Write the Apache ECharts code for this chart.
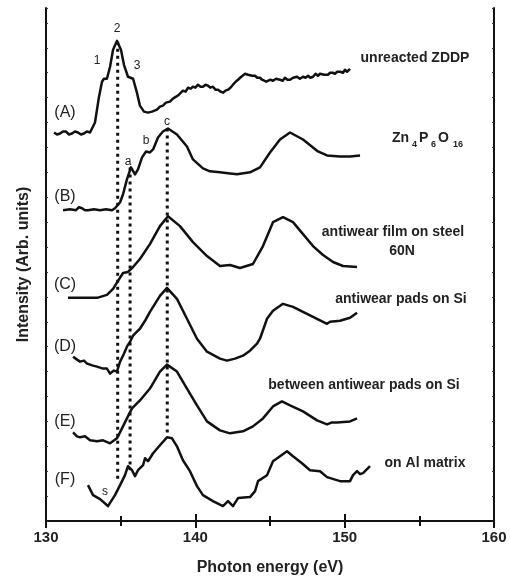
<!DOCTYPE html>
<html><head><meta charset="utf-8">
<script src="https://cdn.jsdelivr.net/npm/echarts@6/dist/echarts.min.js"></script>
<style>html,body{margin:0;padding:0;background:#fff}#c{width:510px;height:581px}</style>
</head><body><div id="c"></div>
<script>
// Photon energy (eV) and intensity (arb. units, curves stacked with offsets)
const xTicks = [130, 140, 150, 160];
const curveA = [[130.54,39.0],[130.74,38.8],[130.94,38.9],[131.14,39.1],[131.34,39.1],[131.54,38.8],[131.74,38.9],[131.94,39.1],[132.14,39.0],[132.34,38.8],[132.54,38.9],[132.74,39.1],[132.95,39.0],[133.28,40.0],[133.55,42.6],[133.75,44.1],[133.88,44.4],[134.08,44.4],[134.29,45.6],[134.49,47.3],[134.75,48.2],[135.02,47.3],[135.22,45.8],[135.49,44.6],[135.83,44.4],[136.09,43.0],[136.29,41.7],[136.56,41.1],[136.83,41.0],[137.10,41.1],[137.43,41.3],[137.63,41.6],[137.83,41.7],[138.03,42.0],[138.30,42.1],[138.50,42.4],[138.71,42.6],[138.90,42.8],[139.17,43.2],[139.35,43.1],[139.51,43.5],[139.70,43.4],[139.84,43.6],[140.00,43.5],[140.18,43.8],[140.35,43.6],[140.51,43.6],[140.68,43.8],[140.85,43.7],[141.00,43.5],[141.18,43.6],[141.35,43.3],[141.52,43.3],[141.70,43.1],[141.85,43.0],[142.02,43.2],[142.19,43.3],[142.35,43.5],[142.52,43.8],[142.70,44.1],[142.86,44.3],[143.00,44.5],[143.13,44.7],[143.33,44.9],[143.53,44.8],[143.66,45.0],[143.80,44.7],[144.00,44.7],[144.15,44.5],[144.33,44.5],[144.47,44.3],[144.60,44.3],[144.75,44.1],[144.87,44.0],[145.03,44.3],[145.20,44.2],[145.40,44.4],[145.67,44.3],[145.85,44.2],[146.00,44.5],[146.17,44.3],[146.34,44.3],[146.55,44.5],[146.81,44.6],[147.00,44.4],[147.21,44.6],[147.38,44.5],[147.55,44.7],[147.70,44.5],[147.88,44.6],[148.05,44.9],[148.21,44.7],[148.35,44.9],[148.48,44.7],[148.62,44.8],[148.75,44.9],[148.88,44.8],[149.02,45.0],[149.20,45.0],[149.35,44.9],[149.50,45.1],[149.69,45.1],[149.89,45.0],[150.02,45.3],[150.16,45.1],[150.36,45.4]];
const curveB = [[131.14,31.2],[131.61,31.3],[132.01,31.2],[132.21,31.5],[132.41,31.4],[132.61,31.2],[132.81,31.2],[133.21,31.3],[133.62,31.2],[134.02,31.3],[134.42,31.2],[134.62,31.4],[134.96,32.0],[135.16,32.8],[135.42,34.3],[135.69,35.5],[135.96,34.8],[136.16,35.3],[136.43,36.5],[136.70,37.1],[136.96,37.0],[137.17,37.3],[137.50,38.5],[137.83,39.1],[138.17,39.4],[138.77,38.8],[139.44,37.6],[139.84,36.3],[140.51,35.4],[140.98,35.1],[141.65,35.0],[142.19,34.9],[142.79,34.8],[143.66,35.0],[144.33,35.5],[145.00,37.0],[145.67,38.3],[146.34,39.0],[147.21,38.3],[148.21,37.1],[148.82,36.7],[149.69,36.6],[150.36,36.6],[151.03,36.7]];
const curveC = [[131.47,22.4],[132.28,22.4],[133.42,22.4],[134.08,22.7],[134.49,23.3],[134.82,24.1],[135.16,24.9],[135.49,25.0],[135.83,25.5],[136.29,26.3],[136.96,27.8],[137.63,29.6],[138.17,30.6],[138.97,29.6],[139.84,28.0],[140.78,26.6],[141.65,25.6],[142.32,25.7],[142.99,25.4],[143.86,25.8],[144.53,27.6],[145.20,30.0],[145.87,30.5],[146.54,30.0],[147.21,28.8],[147.88,27.6],[148.55,26.7],[149.22,26.0],[149.89,25.6],[150.83,25.5]];
const curveD = [[131.81,16.5],[132.08,16.2],[132.28,16.0],[132.54,16.1],[132.75,15.8],[133.15,15.6],[133.42,15.5],[133.82,15.3],[134.08,15.3],[134.29,14.8],[134.55,15.1],[134.75,15.0],[134.96,16.0],[135.16,16.6],[135.42,17.5],[135.63,18.0],[135.83,18.6],[136.09,19.0],[136.29,19.3],[136.63,20.1],[136.96,21.0],[137.63,22.6],[138.10,23.4],[138.77,22.3],[139.44,20.3],[140.11,18.3],[140.78,17.0],[141.65,16.3],[142.12,16.1],[142.66,16.3],[143.19,16.6],[143.66,17.1],[144.13,17.8],[144.33,18.3],[144.80,20.3],[145.20,21.1],[145.87,21.8],[146.54,21.5],[147.48,20.8],[148.15,20.3],[148.82,19.8],[149.02,20.0],[149.69,20.1],[150.36,20.4],[150.83,20.9]];
const curveE = [[131.81,8.9],[132.08,8.5],[132.28,8.4],[132.61,8.5],[132.95,8.1],[133.42,8.0],[133.82,8.1],[134.29,7.8],[134.75,8.3],[135.09,9.3],[135.42,10.3],[135.76,11.3],[136.29,12.1],[136.96,13.3],[137.63,15.0],[138.10,15.7],[138.77,15.0],[139.44,13.3],[140.11,11.6],[140.78,10.0],[141.65,9.1],[142.32,8.8],[143.19,9.0],[143.86,9.5],[144.53,10.3],[145.20,11.5],[145.80,12.0],[146.34,11.6],[147.21,11.0],[148.15,10.1],[148.82,9.7],[149.15,9.9],[149.49,9.9],[150.36,10.0],[150.83,10.3]];
const curveF = [[132.81,3.6],[133.15,2.6],[133.62,2.2],[134.15,1.5],[134.62,2.6],[134.96,3.6],[135.29,4.6],[135.49,5.5],[135.76,5.1],[135.96,4.5],[136.16,5.1],[136.50,5.6],[136.63,6.3],[136.83,6.0],[137.17,6.8],[137.63,7.6],[138.10,8.4],[138.44,8.3],[138.77,7.5],[139.17,6.1],[139.64,5.0],[140.11,3.5],[140.51,2.6],[141.18,2.0],[141.85,1.5],[142.19,2.0],[142.52,1.5],[142.86,2.3],[143.66,2.4],[144.00,3.0],[144.20,4.0],[144.80,4.6],[145.20,6.0],[145.67,6.5],[146.14,7.0],[146.54,6.5],[147.14,5.8],[147.68,5.1],[148.35,5.0],[148.82,4.4],[149.69,4.0],[150.36,4.0],[150.56,4.6],[150.83,5.0],[151.03,4.7],[151.23,4.8],[151.70,5.5]];
// dotted reference lines: [energy, top intensity, bottom intensity]
const refLines = [[134.80,48.1,4.0],[135.63,35.5,5.1],[138.12,39.4,8.6]];
const curveNames = ['(A)','(B)','(C)','(D)','(E)','(F)'];

const F = '"Liberation Sans", Arial, sans-serif';
const chart = echarts.init(document.getElementById('c'));
const curves = [curveA, curveB, curveC, curveD, curveE, curveF];
const series = curves.map((d,i)=>({
  type:'line', name:curveNames[i], data:d, showSymbol:false, smooth:false,
  lineStyle:{color:'#111', width:2.5, join:'round'}, z:3, animation:false
}));
refLines.forEach(r=>series.push({
  type:'line', data:[[r[0],r[1]],[r[0],r[2]]], showSymbol:false,
  lineStyle:{color:'#111', width:3, type:[3,4]}, z:2, animation:false
}));
function txt(x,y,t,size,bold,align){
  return {type:'text', x:x, y:y, style:{text:t, font:(bold?'bold ':'')+size+'px '+F, fill:'#222', align:align||'center', verticalAlign:'middle'}};
}
const g = [
  txt(65,113,'(A)',16), txt(65,197,'(B)',16), txt(65,285,'(C)',16),
  txt(65,347,'(D)',16), txt(65,422,'(E)',16), txt(65,480,'(F)',16),
  txt(97,61,'1',12), txt(117,29,'2',12), txt(137,66,'3',12),
  txt(128,162,'a',12), txt(146,141,'b',12), txt(167,122,'c',12), txt(105,492,'s',12),
  txt(415,58,'unreacted ZDDP',14,true),
  txt(392,138,'Zn',14,true,'left'), txt(412,145,'4',9,true,'left'),
  txt(419,138,'P',14,true,'left'), txt(431,145,'6',9,true,'left'),
  txt(438,138,'O',14,true,'left'), txt(453,145,'16',9,true,'left'),
  txt(393,232,'antiwear film on steel',14,true), txt(402,251,'60N',14,true),
  txt(401,299,'antiwear pads on Si',14,true),
  txt(364,385,'between antiwear pads on Si',14,true),
  txt(425,463,'on Al matrix',14,true)
];
const axLine = {show:true, lineStyle:{color:'#111', width:2}};
chart.setOption({
  animation:false,
  grid:{left:46, right:16, top:8, bottom:58},
  xAxis:[{
    type:'value', min:130, max:160, interval:10, position:'bottom',
    axisLine:axLine, splitLine:{show:false},
    axisTick:{inside:true, length:7, lineStyle:{color:'#111', width:2}},
    minorTick:{show:true, splitNumber:2, length:5, lineStyle:{color:'#111', width:2}},
    axisLabel:{formatter:v=>xTicks.includes(v)?String(v):'', fontFamily:F, fontWeight:'bold', fontSize:15, color:'#222', margin:9},
    name:'Photon energy (eV)', nameLocation:'middle', nameGap:39,
    nameTextStyle:{fontFamily:F, fontWeight:'bold', fontSize:16, color:'#222'}
  },{
    type:'value', min:130, max:160, interval:10, position:'top',
    axisLine:axLine, splitLine:{show:false},
    axisTick:{inside:true, length:7, lineStyle:{color:'#111', width:2}},
    minorTick:{show:true, splitNumber:2, length:5, lineStyle:{color:'#111', width:2}},
    axisLabel:{show:false}
  }],
  yAxis:[{
    type:'value', min:0, max:51.5, interval:2.5, position:'left',
    axisLine:axLine, splitLine:{show:false},
    axisTick:{inside:true, length:2, lineStyle:{color:'#333', width:1}},
    axisLabel:{show:false},
    name:'Intensity (Arb. units)', nameLocation:'middle', nameGap:14,
    nameTextStyle:{fontFamily:F, fontWeight:'bold', fontSize:16, color:'#222'}
  },{
    type:'value', min:0, max:51.5, interval:2.5, position:'right',
    axisLine:axLine, splitLine:{show:false},
    axisTick:{inside:true, length:2, lineStyle:{color:'#333', width:1}},
    axisLabel:{show:false}
  }],
  series:series,
  graphic:g
});
</script></body></html>
